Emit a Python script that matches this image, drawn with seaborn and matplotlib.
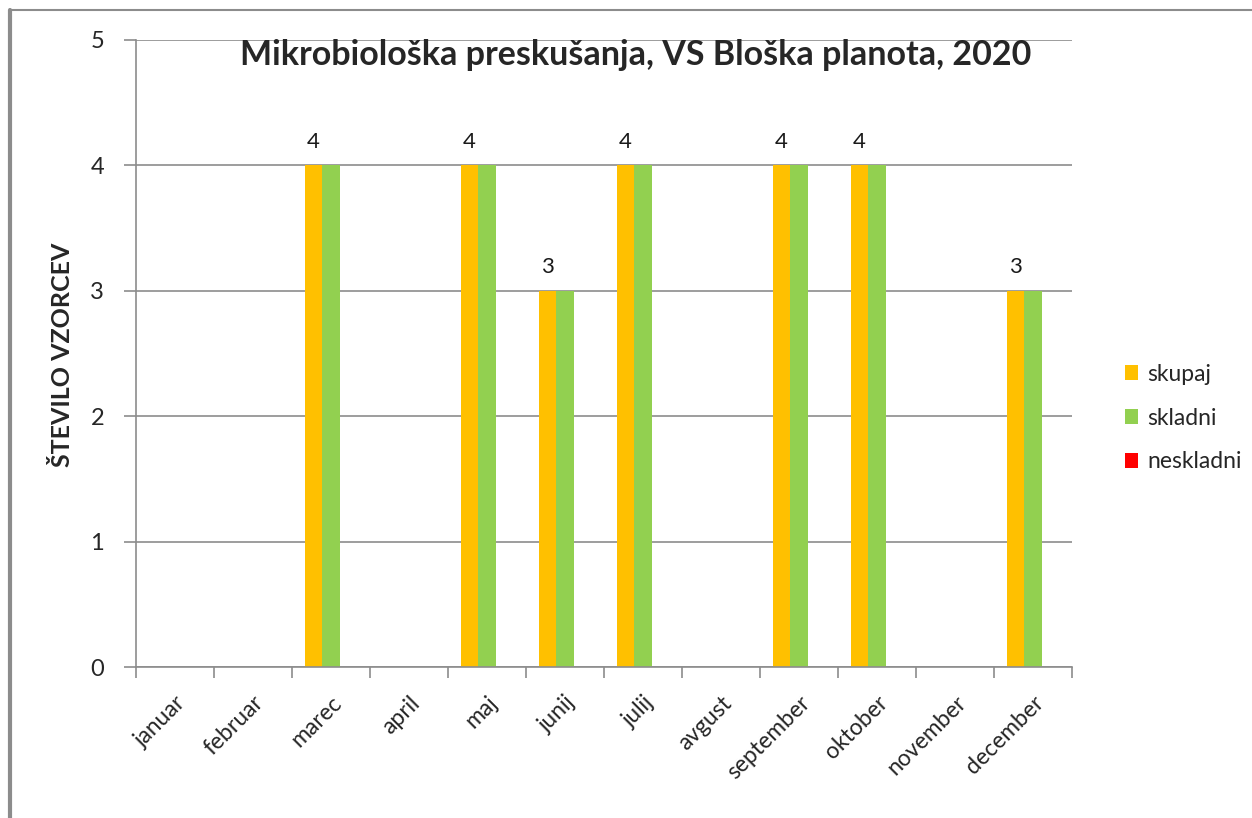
import matplotlib
matplotlib.use("Agg")
import matplotlib.pyplot as plt
import seaborn as sns
import pandas as pd
from matplotlib.patches import Patch
from matplotlib.lines import Line2D

months = ["januar", "februar", "marec", "april", "maj", "junij",
          "julij", "avgust", "september", "oktober", "november", "december"]
skupaj = [0, 0, 4, 0, 4, 3, 4, 0, 4, 4, 0, 3]
skladni = [0, 0, 4, 0, 4, 3, 4, 0, 4, 4, 0, 3]
neskladni = [0, 0, 0, 0, 0, 0, 0, 0, 0, 0, 0, 0]
series = ["skupaj", "skladni", "neskladni"]
colors = ["#FFC000", "#92D050", "#FF0000"]

df = pd.DataFrame({
    "mesec": months * 3,
    "serija": ["skupaj"] * 12 + ["skladni"] * 12 + ["neskladni"] * 12,
    "vrednost": skupaj + skladni + neskladni,
})

sns.set_style("white")
plt.rcParams["font.family"] = ["Lato", "DejaVu Sans"]

fig = plt.figure(figsize=(12.52, 8.18), dpi=100)
ax = fig.add_axes([136 / 1252, 1 - 667 / 818, (1072 - 136) / 1252, (667 - 40) / 818])

sns.barplot(data=df, x="mesec", y="vrednost", hue="serija", hue_order=series,
            palette=colors, order=months, width=0.67, gap=0, ax=ax,
            legend=False, linewidth=0, saturation=1, err_kws={"linewidth": 0})

# labels only on skupaj bars
ax.bar_label(ax.containers[0], labels=[str(v) if v > 0 else "" for v in skupaj],
             padding=10, fontsize=16, color="#1a1a1a")

grid = "#8c8c8c"
ax.set_ylim(0, 5)
ax.set_xlim(-0.5, 11.5)
ax.set_yticks(range(6))
ax.yaxis.grid(True, color=grid, linewidth=1.2)
ax.set_axisbelow(True)
for s in ["top", "right"]:
    ax.spines[s].set_visible(False)
ax.spines["left"].set_color(grid)
ax.spines["bottom"].set_color(grid)
ax.spines["left"].set_linewidth(1.2)
ax.spines["bottom"].set_linewidth(1.2)

ax.set_xticks([i - 0.5 for i in range(13)], minor=True)
ax.tick_params(axis="x", which="minor", length=8, color=grid, width=1.2, bottom=True)
ax.tick_params(axis="x", which="major", length=0, pad=18, labelsize=16.5)
ax.tick_params(axis="y", length=9, color=grid, width=1.2, pad=14, labelsize=17, left=True)
plt.setp(ax.get_xticklabels(), rotation=45, ha="right", va="top", rotation_mode="anchor")
ax.set_xlabel("")
ax.set_ylabel("")

fig.text(63 / 1252, 1 - 355 / 818, "ŠTEVILO VZORCEV", rotation=90, ha="center",
         va="center", fontsize=18, fontweight="bold")
fig.text(636 / 1252, 1 - 55 / 818, "Mikrobiološka preskušanja, VS Bloška planota, 2020",
         ha="center", va="center", fontsize=24.5, fontweight="bold")

handles = [Patch(facecolor=c, edgecolor="none") for c in colors]
fig.legend(handles, series, loc="center left", bbox_to_anchor=(1104 / 1252, 1 - 418 / 818),
           frameon=False, fontsize=16.5, handlelength=0.6, handleheight=0.6,
           handletextpad=0.4, labelspacing=1.0)

# outer chart frame
fig.add_artist(Line2D([10 / 1252, 10 / 1252], [0, 1 - 10 / 818], color="#8c8c8c", linewidth=3))
fig.add_artist(Line2D([10 / 1252, 1], [1 - 10 / 818, 1 - 10 / 818], color="#8c8c8c", linewidth=1.5))

fig.savefig("out.png", dpi=100)
